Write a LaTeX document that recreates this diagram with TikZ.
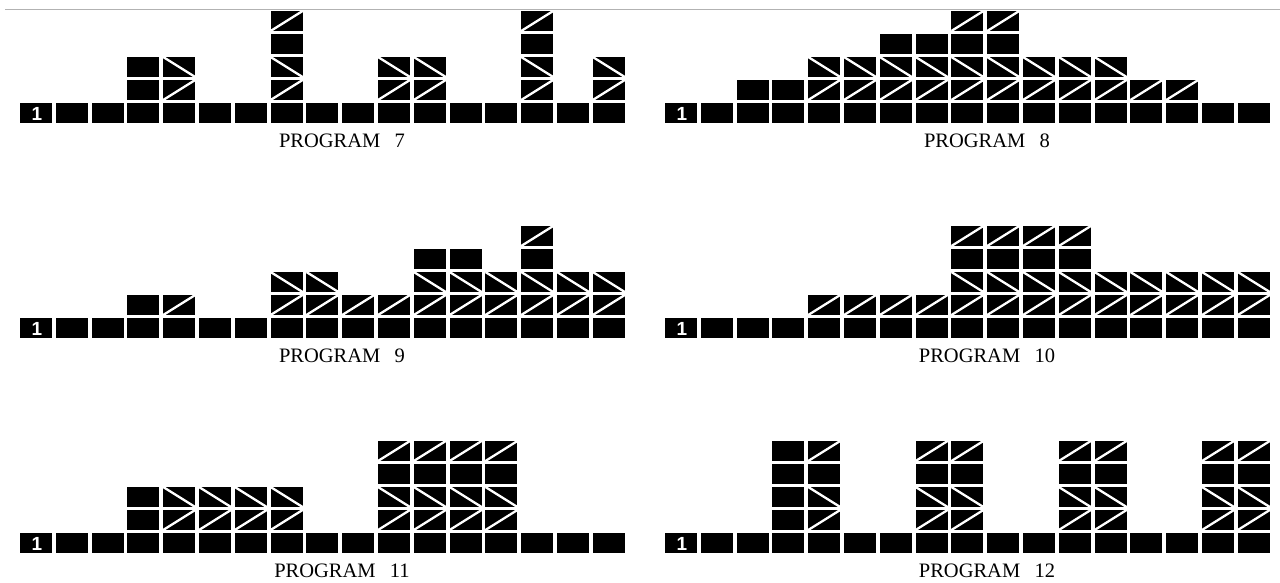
\documentclass[tikz,border=0pt]{standalone}
\usepackage{fontspec}
\setmainfont{Liberation Serif}
\newfontfamily\numfont{Liberation Sans}
\tikzset{
  cellfill/.style={fill=black},
  diag/.style={draw=white, line width=2.3pt, line cap=butt},
  proglabel/.style={font=\fontsize{20.5}{24}\selectfont, anchor=base, inner sep=0pt},
  onelabel/.style={text=white, font=\numfont\bfseries\fontsize{19}{19}\selectfont, inner sep=0pt},
  topline/.style={draw=black!30, line width=1.2pt},
}
\newcommand\cellat[3]{%
  \pgfmathsetmacro\cx{\px+35.8*(#1)}%
  \pgfmathsetmacro\cy{\py-23*(#2)}%
  \fill[cellfill] (\cx,\cy) rectangle ++(32,20);%
  \ifcase#3\relax
  \or \draw[diag] (\cx,\cy+20) -- ++(32,-20);%
  \or \draw[diag] (\cx,\cy) -- ++(32,20);%
  \fi}
\newcommand\pcol[2]{\foreach \t [count=\r] in {#2} {\cellat{#1}{\r}{\t}}}
\newcommand\baserow[1]{%
  \foreach \i in {0,...,16} {\cellat{\i}{0}{0}}%
  \node[onelabel] (one#1) at (\px+17,\py+10.5) {1};}
\begin{document}
\begin{tikzpicture}[x=1pt,y=-1pt]
\useasboundingbox (0,0) rectangle (1280,582);
\fill[white] (0,0) rectangle (1280,582);
\draw[topline] (5,9.5) -- (1280,9.5);

% PROGRAM 7
\def\px{20}\def\py{103}
\baserow{7}
\pcol{3}{0,0}
\pcol{4}{1,2}
\pcol{7}{1,2,0,1}
\pcol{10}{1,2}
\pcol{11}{1,2}
\pcol{14}{1,2,0,1}
\pcol{16}{1,2}
\node[proglabel] (p7) at (342,147) {PROGRAM\hspace{0.7em}7};

% PROGRAM 8
\def\px{665}\def\py{103}
\baserow{8}
\pcol{2}{0}
\pcol{3}{0}
\pcol{4}{1,2}
\pcol{5}{1,2}
\pcol{6}{1,2,0}
\pcol{7}{1,2,0}
\pcol{8}{1,2,0,1}
\pcol{9}{1,2,0,1}
\pcol{10}{1,2}
\pcol{11}{1,2}
\pcol{12}{1,2}
\pcol{13}{1}
\pcol{14}{1}
\node[proglabel] (p8) at (987,147) {PROGRAM\hspace{0.7em}8};

% PROGRAM 9
\def\px{20}\def\py{318}
\baserow{9}
\pcol{3}{0}
\pcol{4}{1}
\pcol{7}{1,2}
\pcol{8}{1,2}
\pcol{9}{1}
\pcol{10}{1}
\pcol{11}{1,2,0}
\pcol{12}{1,2,0}
\pcol{13}{1,2}
\pcol{14}{1,2,0,1}
\pcol{15}{1,2}
\pcol{16}{1,2}
\node[proglabel] (p9) at (342,362) {PROGRAM\hspace{0.7em}9};

% PROGRAM 10
\def\px{665}\def\py{318}
\baserow{10}
\pcol{4}{1}
\pcol{5}{1}
\pcol{6}{1}
\pcol{7}{1}
\pcol{8}{1,2,0,1}
\pcol{9}{1,2,0,1}
\pcol{10}{1,2,0,1}
\pcol{11}{1,2,0,1}
\pcol{12}{1,2}
\pcol{13}{1,2}
\pcol{14}{1,2}
\pcol{15}{1,2}
\pcol{16}{1,2}
\node[proglabel] (p10) at (987,362) {PROGRAM\hspace{0.7em}10};

% PROGRAM 11
\def\px{20}\def\py{533}
\baserow{11}
\pcol{3}{0,0}
\pcol{4}{1,2}
\pcol{5}{1,2}
\pcol{6}{1,2}
\pcol{7}{1,2}
\pcol{10}{1,2,0,1}
\pcol{11}{1,2,0,1}
\pcol{12}{1,2,0,1}
\pcol{13}{1,2,0,1}
\node[proglabel] (p11) at (342,577) {PROGRAM\hspace{0.7em}11};

% PROGRAM 12
\def\px{665}\def\py{533}
\baserow{12}
\pcol{3}{0,0,0,0}
\pcol{4}{1,2,0,1}
\pcol{7}{1,2,0,1}
\pcol{8}{1,2,0,1}
\pcol{11}{1,2,0,1}
\pcol{12}{1,2,0,1}
\pcol{15}{1,2,0,1}
\pcol{16}{1,2,0,1}
\node[proglabel] (p12) at (987,577) {PROGRAM\hspace{0.7em}12};
\end{tikzpicture}
\end{document}
